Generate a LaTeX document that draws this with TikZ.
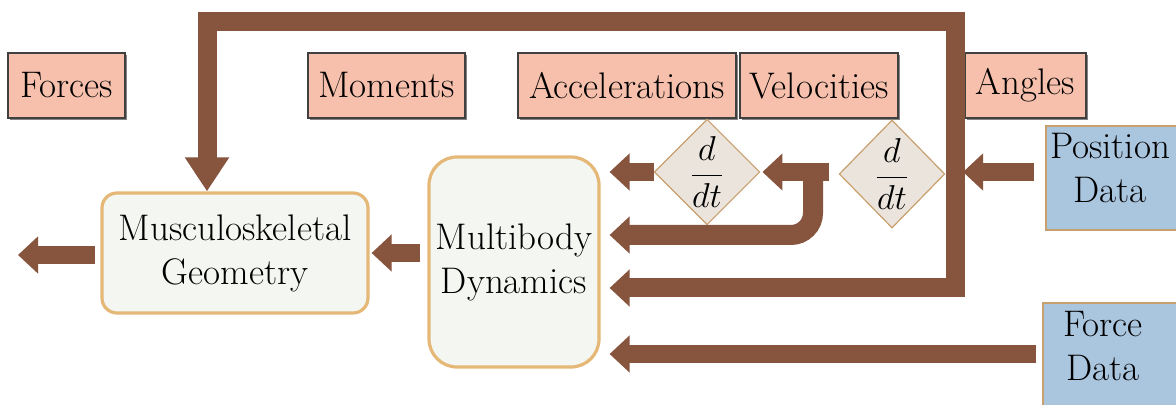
\documentclass[tikz,border=0pt]{standalone}
\usepackage{amsmath}
\usetikzlibrary{arrows.meta,shapes.geometric,shadows,calc}

\definecolor{flowbrown}{RGB}{135,84,62}
\definecolor{qtysalmon}{RGB}{246,192,172}
\definecolor{blockfill}{RGB}{243,246,241}
\definecolor{blockrim}{RGB}{229,184,120}
\definecolor{derivfill}{RGB}{234,228,221}
\definecolor{derivrim}{RGB}{200,160,110}
\definecolor{datablue}{RGB}{170,197,222}

\begin{document}
\begin{tikzpicture}[x=0.5pt,y=-0.5pt,
  every node/.style={font=\fontsize{18.5}{22}\selectfont},
  qty/.style={draw=black!75,line width=1pt,fill=qtysalmon,minimum height=32.5pt,inner sep=0pt,
    drop shadow={shadow xshift=1.2pt,shadow yshift=-1.2pt,fill=black!60,opacity=.8}},
  block/.style={draw=blockrim,line width=1.6pt,fill=blockfill,align=center,inner sep=2pt},
  deriv/.style={diamond,draw=derivrim,line width=0.6pt,fill=derivfill,inner sep=0pt},
  datab/.style={draw=derivrim,line width=0.6pt,fill=datablue,inner sep=0pt},
  flow/.style={draw=flowbrown,line width=9pt,-{Triangle[width=18pt,length=10pt]}},
  ]
\useasboundingbox[fill=white] (0,0) rectangle (1176,405);
\clip (0,0) rectangle (1176,405);

% quantities passed along the chain
\node[qty,minimum width=58.5pt] (forces) at (66.5,85.5) {Forces};
\node[qty,minimum width=78.5pt] (moments) at (386.5,85.5) {Moments};
\node[qty,minimum width=109pt] (accel) at (627,85.5) {Accelerations};
\node[qty,minimum width=79pt] (veloc) at (819,85.5) {Velocities};
\node[qty,minimum width=60.5pt] (angles) at (1025.5,85.5) {Angles};

% model blocks
\node[block,minimum width=133pt,minimum height=60pt,rounded corners=7.5pt] (msk) at (235,253) {Musculoskeletal\\Geometry};
\node[block,minimum width=85pt,minimum height=105pt,rounded corners=14pt] (mbd) at (514,262) {Multibody\\Dynamics};

% differentiators
\node[deriv,minimum width=49pt,minimum height=52.5pt] (ddta) at (707,172) {$\dfrac{d}{dt}$};
\node[deriv,minimum width=50pt,minimum height=54pt] (ddtv) at (892,174) {$\dfrac{d}{dt}$};

% measured data
\node[datab,minimum width=67pt,minimum height=52pt] (posdata) at (1113,178) {};
\node[align=center] (postext) at (1110,168) {Position\\Data};
\node[datab,minimum width=68.5pt,minimum height=53pt] (forcedata) at (1111.5,356) {};
\node[align=center] (forcetext) at (1103,346) {Force\\Data};

\coordinate (loopnw) at (207,22);
\coordinate (loopne) at (955,22);
\coordinate (velsplit) at (813,172);
\coordinate (mskout) at (18,255);
\coordinate (posout) at ($(posdata.west)+(-11,-6)$);
\coordinate (forcein) at ($(forcedata.west)+(-6,-2)$);

% angle loop
\draw[flow,line width=9.5pt,{Triangle[width=21pt,length=17pt]}-{Triangle[width=18pt,length=10pt]},shorten >=4.5pt]
  (loopnw |- msk.north) -- (loopnw) -- (loopne) |- ($(mbd.east)+(0,26)$);
\draw[flow] (posout) -- ($(loopne |- posout)+(8,0)$);

% derivatives
\draw[flow,shorten >=1pt] ($(ddtv.west)+(-10,-2)$) -- (ddta.east);
\draw[flow,line width=10pt,rounded corners=11pt,shorten >=4.5pt] (velsplit) |- (mbd.east |- 0,235);
\draw[flow,shorten >=4.5pt] (ddta.west) -- (mbd.east |- ddta.west);

% force input and outputs
\draw[flow,shorten >=4.5pt] (forcein) -- (mbd.east |- forcein);
\draw[flow,shorten <=3.5pt,shorten >=1pt] (mbd.west |- msk.east) -- (msk.east);
\draw[flow,shorten <=2.5pt] (msk.west |- mskout) -- (mskout);
\end{tikzpicture}
\end{document}
